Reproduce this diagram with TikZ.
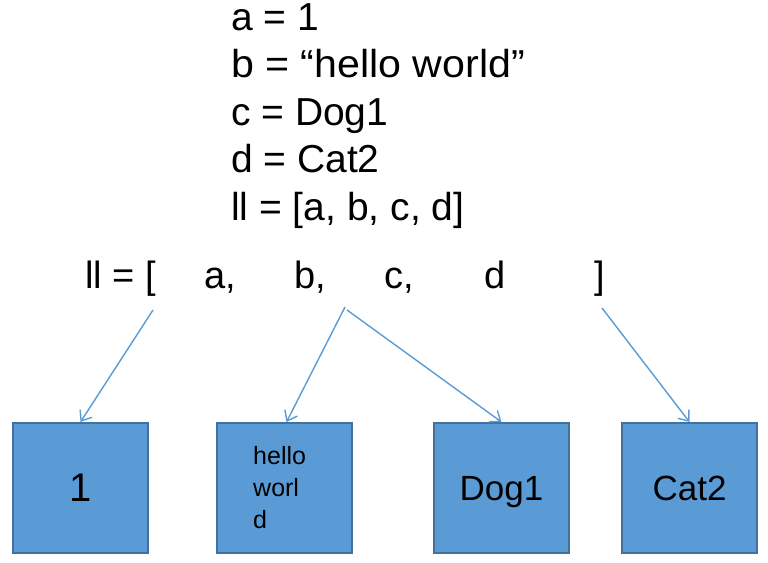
\documentclass[tikz,border=0pt]{standalone}
\usepackage{fontspec}
\usepackage{graphicx}
\setmainfont{Liberation Sans}
\usetikzlibrary{arrows.meta}
\definecolor{boxfill}{RGB}{91,155,213}
\definecolor{boxline}{RGB}{65,113,156}
\definecolor{arrowc}{RGB}{91,155,213}
\begin{document}
\begin{tikzpicture}[x=1pt,y=-1pt,
  txt/.style={inner sep=0pt, anchor=base west, font=\fontsize{38}{45}\selectfont},
  toptxt/.style={txt, font=\fontsize{39}{46}\selectfont},
  valbox/.style={draw=boxline, fill=boxfill, line width=2pt, minimum width=135pt,
    minimum height=130pt, inner sep=0pt, text depth=0pt, anchor=north west,
    font=\fontsize{35}{42}\selectfont},
  ptr/.style={draw=arrowc, line width=1.4pt, -{Straight Barb[length=9pt,width=14pt]}}]
\useasboundingbox (0,0) rectangle (768,562);
% top assignments
\node[toptxt] (la) at (231,30) {a = 1};
\node[toptxt] (lb) at (231,77.5) {\scalebox{1.055}[1]{b = “hello world”}};
\node[toptxt] (lc) at (231,125) {c = Dog1};
\node[toptxt] (ld) at (231,172.5) {d = Cat2};
\node[toptxt] (ll) at (231,220) {ll = [a, b, c, d]};
% list row
\node[txt] (r0) at (85,288) {ll = [};
\node[txt] (ra) at (204,288) {a,};
\node[txt] (rb) at (294,288) {b,};
\node[txt] (rc) at (384,288) {c,};
\node[txt] (rd) at (484,288) {d};
\node[txt] (rr) at (594,288) {]};
% boxes
\node[valbox, font=\fontsize{40}{48}\selectfont] (b1) at (12,422) {1};
\node[valbox] (b2) at (216,422) {};
\node[valbox] (b3) at (433,422) {Dog1};
\node[valbox] (b4) at (621,422) {Cat2};
\node[inner sep=0pt, anchor=north west, align=left, font=\fontsize{25}{32}\selectfont] (hw) at (253,446) {hello\\worl\\d};
% pointer start points
\coordinate (s1) at (153,310);
\coordinate (s2) at (345,307);
\coordinate (s3) at (347,310);
\coordinate (s4) at (602,308);
\draw[ptr] (s1) -- (b1.north);
\draw[ptr] (s2) -- ([xshift=2pt]b2.north);
\draw[ptr] (s3) -- (b3.north);
\draw[ptr] (s4) -- (b4.north);
\end{tikzpicture}
\end{document}
